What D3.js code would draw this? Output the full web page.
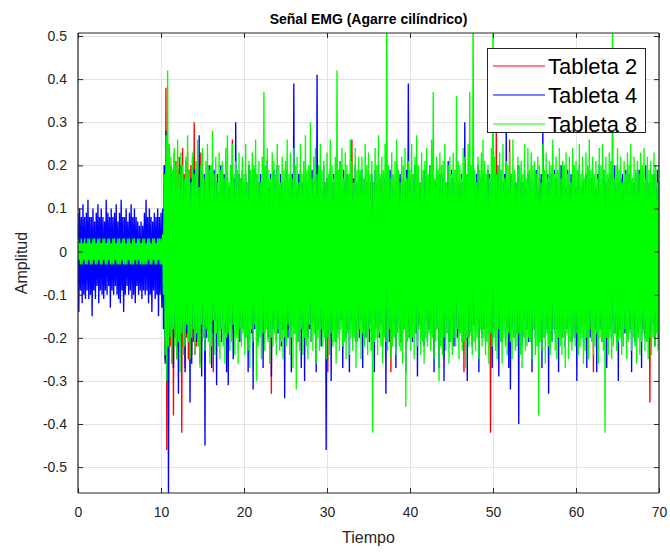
<!DOCTYPE html>
<html><head><meta charset="utf-8">
<script src="https://cdn.jsdelivr.net/npm/d3@7"></script>
<style>body{margin:0;background:#fff}svg{display:block}text{font-family:"Liberation Sans",Arial,sans-serif}</style>
</head><body>
<svg id="c" width="670" height="552"></svg>
<script>
// Sampling: one value every 0.1 time units, starting at 0
const tStart = 0, tStep = 0.1;
const seriesNames = ["Tableta 2", "Tableta 4", "Tableta 8"];
const seriesColors = ["#ff0000", "#0000ff", "#00ff00"];
const xTicks = [0,10,20,30,40,50,60,70];
const yTicks = [-0.5,-0.4,-0.3,-0.2,-0.1,0,0.1,0.2,0.3,0.4,0.5];
const yTickLabels = ["-0.5","-0.4","-0.3","-0.2","-0.1","0","0.1","0.2","0.3","0.4","0.5"];

const tableta2 = [
.02,-.01,.01,-.02,.02,-.02,.01,-.01,.02,-.02,
.01,-.02,.02,-.01,.02,-.02,.01,-.02,.02,-.01,
.02,-.02,.01,-.02,.02,-.01,.02,-.02,.01,-.02,
.02,-.01,.02,-.02,.01,-.02,.02,-.01,.02,-.02,
.01,-.02,.02,-.02,.02,-.01,.01,-.02,.02,-.02,
.02,-.02,.01,-.01,.02,-.02,.02,-.02,.01,-.02,
.02,-.01,.02,-.02,.01,-.02,.02,-.02,.02,-.01,
.01,-.02,.02,-.01,.02,-.02,.01,-.02,.02,-.02,
.02,-.02,.01,-.02,.02,-.01,.02,-.02,.01,-.02,
.02,-.01,.02,-.02,.01,-.02,.02,-.01,.02,-.02,
.02,-.03,.05,-.12,.2,-.25,.38,-.46,.22,-.3,
.24,-.22,.2,-.26,.18,-.38,.23,-.2,.21,-.25,
.19,-.23,.22,-.21,.2,-.42,.24,-.22,.18,-.27,
.21,-.2,.23,-.25,.19,-.22,.2,-.24,.22,-.21,
.3,-.24,.19,-.22,.21,-.2,.18,-.26,.23,-.21,
.15,-.17,.13,-.16,.17,-.18,.14,-.15,.16,-.17,
.17,-.15,.15,-.28,.13,-.16,.16,-.15,.15,-.18,
.14,-.17,.16,-.15,.15,-.16,.13,-.18,.16,-.15,
.15,-.16,.14,-.17,.17,-.15,.26,-.19,.13,-.16,
.16,-.18,.15,-.15,.14,-.16,.17,-.15,.15,-.17,
.13,-.16,.16,-.18,.15,-.15,.14,-.17,.16,-.15,
.15,-.17,.13,-.15,.16,-.16,.15,-.18,.14,-.15,
.16,-.15,.15,-.17,.13,-.18,.16,-.15,.15,-.16,
.14,-.15,.16,-.33,.15,-.16,.13,-.17,.16,-.15,
.15,-.18,.14,-.15,.16,-.15,.15,-.17,.13,-.16,
.17,-.16,.15,-.18,.14,-.15,.16,-.17,.15,-.15,
.14,-.17,.16,-.15,.15,-.18,.13,-.16,.17,-.15,
.15,-.16,.13,-.17,.16,-.15,.15,-.19,.14,-.16,
.16,-.15,.15,-.17,.14,-.16,.17,-.15,.15,-.18,
.13,-.17,.16,-.15,.15,-.18,.14,-.16,.16,-.15,
.15,-.28,.14,-.17,.17,-.15,.15,-.16,.13,-.17,
.16,-.18,.15,-.15,.14,-.16,.17,-.15,.15,-.16,
.14,-.16,.16,-.18,.15,-.15,.13,-.17,.16,-.15,
.26,-.17,.13,-.15,.16,-.16,.15,-.18,.14,-.16,
.17,-.15,.15,-.17,.13,-.18,.16,-.15,.15,-.17,
.14,-.15,.16,-.16,.15,-.16,.13,-.17,.16,-.18,
.15,-.16,.14,-.15,.17,-.15,.15,-.17,.13,-.16,
.16,-.17,.15,-.18,.14,-.15,.16,-.28,.15,-.16,
.13,-.15,.16,-.16,.15,-.18,.14,-.15,.17,-.17,
.15,-.18,.13,-.15,.16,-.16,.15,-.17,.14,-.15,
.17,-.15,.15,-.16,.13,-.17,.16,-.15,.15,-.18,
.14,-.16,.16,-.15,.15,-.18,.13,-.15,.16,-.16,
.15,-.15,.14,-.17,.17,-.15,.15,-.16,.13,-.17,
.16,-.18,.15,-.15,.14,-.16,.17,-.15,.15,-.15,
.13,-.16,.16,-.18,.15,-.15,.14,-.17,.16,-.15,
.15,-.17,.13,-.15,.16,-.16,.15,-.18,.14,-.15,
.16,-.15,.15,-.17,.13,-.28,.16,-.15,.15,-.16,
.14,-.15,.16,-.16,.15,-.16,.13,-.17,.16,-.18,
.15,-.16,.14,-.15,.17,-.15,.15,-.17,.13,-.16,
.16,-.17,.15,-.18,.14,-.15,.16,-.42,.15,-.16,
.13,-.15,.16,-.16,.3,-.18,.14,-.15,.17,-.17,
.15,-.18,.13,-.15,.16,-.16,.15,-.17,.14,-.15,
.26,-.15,.15,-.16,.13,-.17,.16,-.15,.15,-.18,
.14,-.16,.16,-.15,.15,-.18,.13,-.15,.16,-.16,
.15,-.15,.14,-.17,.17,-.15,.15,-.16,.13,-.17,
.16,-.18,.15,-.15,.14,-.16,.17,-.15,.15,-.15,
.13,-.16,.16,-.18,.15,-.15,.14,-.17,.16,-.15,
.15,-.17,.13,-.15,.16,-.16,.15,-.18,.14,-.15,
.16,-.15,.15,-.17,.13,-.18,.16,-.15,.15,-.16,
.14,-.15,.16,-.16,.15,-.16,.13,-.17,.16,-.18,
.15,-.16,.14,-.15,.17,-.15,.15,-.17,.13,-.16,
.16,-.17,.15,-.18,.14,-.15,.16,-.15,.15,-.16,
.13,-.28,.16,-.16,.15,-.18,.14,-.15,.17,-.17,
.15,-.18,.13,-.15,.16,-.16,.15,-.17,.14,-.15,
.17,-.15,.15,-.16,.13,-.17,.16,-.15,.15,-.18,
.14,-.16,.16,-.15,.15,-.18,.13,-.15,.16,-.16,
.15,-.15,.14,-.17,.17,-.15,.15,-.16,.13,-.17,
.16,-.18,.15,-.15,.14,-.16,.17,-.15,.15,-.15,
.13,-.16,.16,-.18,.15,-.15,.14,-.17,.16,-.35,
.15,-.17,.13,-.15,.16,-.16,.15,-.18,.14,-.15,
.15];

const tableta4 = [
.09,-.14,.1,-.09,.08,-.12,.11,-.1,.08,-.11,
.09,-.09,.12,-.11,.08,-.1,.08,-.15,.1,-.09,
.07,-.11,.09,-.08,.11,-.12,.08,-.09,.1,-.1,
.08,-.11,.07,-.09,.12,-.1,.09,-.08,.08,-.13,
.1,-.09,.08,-.1,.09,-.08,.11,-.1,.07,-.11,
.09,-.12,.12,-.09,.08,-.14,.08,-.1,.1,-.08,
.07,-.1,.09,-.09,.11,-.11,.08,-.1,.1,-.12,
.08,-.08,.07,-.1,.06,-.09,.07,-.11,.06,-.09,
.09,-.1,.12,-.09,.08,-.12,.1,-.1,.08,-.14,
.07,-.09,.09,-.11,.08,-.1,.1,-.15,.08,-.1,
.09,-.13,.1,-.18,.2,-.26,.28,-.3,.25,-.56,
.16,-.2,.18,-.17,.15,-.27,.19,-.18,.16,-.22,
.18,-.33,.15,-.17,.2,-.19,.14,-.18,.17,-.28,
.16,-.19,.19,-.15,.14,-.35,.17,-.26,.15,-.17,
.19,-.18,.14,-.21,.17,-.16,.27,-.19,.16,-.29,
.15,-.17,.18,-.45,.16,-.2,.13,-.18,.2,-.16,
.17,-.27,.14,-.19,.19,-.16,.16,-.31,.18,-.19,
.13,-.18,.2,-.21,.15,-.16,.18,-.19,.16,-.28,
.18,-.31,.15,-.17,.2,-.18,.14,-.25,.17,-.16,
.3,-.19,.16,-.18,.18,-.21,.13,-.16,.19,-.18,
.15,-.2,.18,-.17,.16,-.28,.2,-.15,.14,-.19,
.17,-.32,.19,-.18,.15,-.16,.18,-.21,.16,-.18,
.18,-.17,.14,-.27,.17,-.19,.16,-.16,.21,-.2,
.15,-.18,.18,-.29,.13,-.18,.19,-.16,.16,-.21,
.2,-.19,.15,-.17,.18,-.22,.16,-.18,.14,-.34,
.18,-.16,.19,-.2,.15,-.18,.17,-.28,.18,-.17,
.39,-.19,.16,-.18,.14,-.21,.18,-.16,.19,-.27,
.16,-.18,.13,-.3,.18,-.17,.16,-.2,.15,-.18,
.18,-.21,.19,-.16,.15,-.19,.17,-.28,.41,-.18,
.16,-.17,.18,-.22,.14,-.18,.2,-.19,.16,-.46,
.17,-.2,.15,-.16,.19,-.3,.16,-.18,.18,-.17,
.14,-.21,.18,-.18,.16,-.19,.21,-.16,.15,-.27,
.19,-.17,.16,-.2,.18,-.18,.14,-.28,.18,-.16,
.15,-.19,.17,-.18,.2,-.21,.16,-.17,.13,-.2,
.18,-.16,.19,-.27,.15,-.18,.17,-.2,.16,-.18,
.18,-.21,.14,-.17,.18,-.19,.16,-.28,.19,-.16,
.16,-.18,.2,-.2,.15,-.17,.18,-.22,.14,-.19,
.17,-.33,.18,-.16,.16,-.21,.19,-.18,.15,-.2,
.18,-.17,.14,-.27,.2,-.18,.16,-.16,.18,-.21,
.15,-.19,.17,-.18,.16,-.28,.19,-.17,.39,-.2,
.16,-.18,.18,-.21,.14,-.16,.2,-.19,.17,-.29,
.18,-.17,.15,-.2,.18,-.18,.16,-.22,.19,-.16,
.14,-.21,.17,-.18,.2,-.19,.15,-.17,.18,-.28,
.16,-.18,.19,-.16,.14,-.27,.18,-.2,.17,-.18,
.18,-.3,.15,-.19,.16,-.17,.21,-.21,.14,-.18,
.19,-.18,.17,-.22,.15,-.16,.18,-.2,.16,-.19,
.14,-.17,.18,-.21,.16,-.18,.3,-.16,.17,-.3,
.18,-.2,.15,-.18,.19,-.22,.16,-.17,.14,-.19,
.18,-.16,.2,-.28,.17,-.18,.15,-.2,.18,-.18,
.16,-.21,.14,-.17,.19,-.19,.18,-.16,.15,-.27,
.17,-.18,.18,-.2,.16,-.18,.2,-.29,.14,-.17,
.19,-.21,.16,-.16,.18,-.19,.3,-.18,.15,-.27,
.17,-.32,.18,-.18,.14,-.2,.18,-.17,.16,-.19,
.2,-.4,.15,-.18,.17,-.22,.16,-.16,.19,-.2,
.14,-.18,.18,-.21,.18,-.17,.16,-.28,.15,-.18,
.18,-.2,.19,-.16,.15,-.19,.17,-.18,.18,-.27,
.3,-.17,.16,-.2,.14,-.18,.18,-.33,.16,-.16,
.18,-.21,.15,-.18,.19,-.19,.17,-.17,.14,-.28,
.17,-.18,.2,-.2,.16,-.16,.18,-.22,.15,-.18,
.19,-.19,.14,-.17,.18,-.21,.16,-.18,.18,-.2,
.15,-.3,.17,-.18,.2,-.19,.14,-.16,.18,-.21,
.16,-.17,.18,-.27,.15,-.18,.19,-.2,.17,-.16,
.18,-.19,.16,-.18,.14,-.28,.18,-.17,.2,-.18,
.15,-.21,.17,-.16,.19,-.19,.16,-.27,.18,-.18,
.14,-.18,.18,-.2,.16,-.17,.2,-.19,.15,-.21,
.18,-.3,.16,-.18,.17,-.22,.18,-.16,.14,-.19,
.19,-.17,.15,-.2,.18,-.18,.16,-.28,.17,-.16,
.16,-.21,.18,-.18,.14,-.19,.19,-.17,.16,-.27,
.18,-.18,.15,-.2,.2,-.16,.17,-.21,.14,-.18,
.18,-.19,.16,-.17,.18,-.22,.15,-.18,.19,-.2,
.16];

const tableta8 = [
.03,-.02,.02,-.03,.03,-.03,.02,-.02,.03,-.03,
.02,-.03,.03,-.02,.03,-.03,.02,-.03,.03,-.02,
.03,-.03,.02,-.03,.03,-.02,.03,-.03,.02,-.03,
.03,-.02,.03,-.03,.02,-.03,.03,-.02,.03,-.03,
.02,-.03,.03,-.03,.03,-.02,.02,-.03,.03,-.03,
.03,-.03,.02,-.02,.03,-.03,.03,-.03,.02,-.03,
.03,-.02,.03,-.03,.02,-.03,.03,-.03,.03,-.02,
.02,-.03,.03,-.02,.03,-.03,.02,-.03,.03,-.03,
.03,-.03,.02,-.03,.03,-.02,.03,-.03,.02,-.03,
.03,-.02,.03,-.03,.02,-.03,.03,-.02,.03,-.03,
.03,-.03,.04,-.1,.18,-.24,.27,-.3,.42,-.22,
.25,-.2,.22,-.26,.19,-.18,.24,-.22,.2,-.25,
.26,-.21,.18,-.28,.23,-.19,.2,-.24,.17,-.22,
.22,-.17,.27,-.21,.19,-.25,.16,-.2,.23,-.18,
.18,-.24,.21,-.19,.26,-.22,.15,-.27,.2,-.17,
.24,-.2,.17,-.23,.21,-.18,.25,-.21,.19,-.26,
.2,-.22,.28,-.16,.18,-.24,.22,-.19,.16,-.22,
.23,-.25,.19,-.18,.21,-.22,.17,-.26,.24,-.2,
.27,-.19,.16,-.23,.2,-.21,.25,-.17,.18,-.24,
.21,-.2,.19,-.26,.23,-.18,.17,-.22,.22,-.19,
.18,-.24,.25,-.2,.16,-.23,.21,-.27,.19,-.18,
.23,-.21,.2,-.17,.26,-.3,.18,-.22,.21,-.2,
.16,-.25,.22,-.19,.37,-.23,.2,-.18,.24,-.21,
.19,-.26,.17,-.2,.23,-.22,.21,-.19,.18,-.24,
.25,-.18,.2,-.23,.16,-.21,.22,-.25,.19,-.2,
.21,-.22,.26,-.17,.18,-.24,.23,-.2,.17,-.27,
.24,-.19,.2,-.32,.22,-.21,.16,-.23,.25,-.18,
.18,-.24,.21,-.2,.27,-.22,.19,-.25,.2,-.17,
.3,-.21,.17,-.23,.22,-.19,.24,-.26,.18,-.2,
.2,-.23,.25,-.18,.19,-.22,.21,-.2,.16,-.25,
.23,-.2,.18,-.24,.26,-.19,.2,-.22,.17,-.21,
.22,-.26,.42,-.2,.19,-.23,.21,-.18,.24,-.22,
.17,-.21,.23,-.25,.2,-.19,.18,-.24,.26,-.2,
.21,-.23,.16,-.2,.24,-.27,.19,-.21,.22,-.18,
.19,-.25,.22,-.19,.17,-.22,.25,-.2,.2,-.24,
.23,-.18,.18,-.23,.21,-.42,.16,-.21,.24,-.2,
.2,-.24,.27,-.19,.18,-.22,.22,-.26,.19,-.2,
.25,-.21,.6,-.23,.2,-.18,.17,-.25,.23,-.22,
.18,-.2,.21,-.24,.26,-.19,.19,-.22,.16,-.23,
.22,-.26,.2,-.18,.24,-.36,.17,-.21,.21,-.2,
.19,-.23,.25,-.2,.18,-.25,.22,-.19,.27,-.22,
.2,-.18,.16,-.24,.23,-.21,.19,-.26,.21,-.2,
.24,-.22,.18,-.19,.2,-.23,.26,-.2,.37,-.25,
.17,-.21,.22,-.18,.19,-.3,.23,-.22,.2,-.24,
.21,-.2,.25,-.23,.16,-.19,.2,-.26,.22,-.21,
.18,-.24,.23,-.2,.19,-.22,.36,-.18,.21,-.25,
.2,-.19,.17,-.23,.24,-.21,.22,-.27,.18,-.2,
.25,-.22,.37,-.19,.2,-.24,.6,-.21,.19,-.23,
.16,-.2,.22,-.25,.19,-.18,.23,-.22,.26,-.2,
.21,-.24,.18,-.21,.2,-.26,.17,-.19,.24,-.22,
.6,-.2,.22,-.23,.18,-.25,.2,-.18,.23,-.21,
.19,-.26,.25,-.2,.17,-.22,.21,-.24,.2,-.19,
.23,-.21,.18,-.25,.26,-.2,.19,-.23,.16,-.22,
.22,-.19,.2,-.24,.21,-.27,.18,-.2,.25,-.23,
.17,-.22,.24,-.2,.19,-.21,.23,-.25,.2,-.18,
.21,-.24,.18,-.22,.22,-.38,.2,-.21,.16,-.23,
.25,-.2,.19,-.26,.23,-.19,.17,-.22,.21,-.24,
.2,-.21,.26,-.18,.18,-.23,.22,-.25,.19,-.2,
.24,-.22,.17,-.24,.21,-.2,.2,-.27,.23,-.19,
.18,-.25,.22,-.21,.16,-.23,.24,-.2,.2,-.22,
.21,-.19,.19,-.24,.25,-.22,.18,-.2,.22,-.26,
.17,-.23,.23,-.2,.2,-.25,.26,-.18,.19,-.21,
.22,-.24,.18,-.22,.21,-.19,.17,-.26,.24,-.2,
.2,-.21,.25,-.23,.19,-.42,.22,-.2,.18,-.24,
.23,-.2,.21,-.25,.6,-.22,.17,-.19,.2,-.23,
.24,-.21,.19,-.2,.22,-.24,.16,-.22,.21,-.18,
.18,-.25,.23,-.21,.2,-.19,.25,-.23,.17,-.2,
.22,-.22,.19,-.26,.21,-.2,.18,-.24,.23,-.21,
.2,-.19,.24,-.23,.17,-.21,.22,-.25,.19,-.2,
.21,-.24,.18,-.2,.23,-.22,.2,-.19,.16,-.23,
.2];

const allSeries = [tableta2, tableta4, tableta8];

const svg = d3.select("#c");
const m = {left:78, right:659, top:33, bottom:493};
const x = d3.scaleLinear().domain([0,70]).range([m.left, m.right]);
const y = d3.scaleLinear().domain([-0.56, 0.507]).range([m.bottom, m.top]);
const axisCol = "#262626";

// grid
svg.append("g").selectAll("line").data(xTicks).join("line")
  .attr("x1", d=>x(d)+0.5).attr("x2", d=>x(d)+0.5).attr("y1", m.top).attr("y2", m.bottom)
  .attr("stroke", "#e3e3e3").attr("stroke-width", 1);
svg.append("g").selectAll("line").data(yTicks).join("line")
  .attr("y1", d=>Math.round(y(d))+0.5).attr("y2", d=>Math.round(y(d))+0.5).attr("x1", m.left).attr("x2", m.right)
  .attr("stroke", "#e3e3e3").attr("stroke-width", 1);

svg.append("clipPath").attr("id","clip").append("rect")
  .attr("x", m.left).attr("y", m.top).attr("width", m.right-m.left).attr("height", m.bottom-m.top);

const line = d3.line().x((d,i)=>x(tStart + i*tStep)).y(d=>y(d));
const gData = svg.append("g").attr("clip-path","url(#clip)");
allSeries.forEach((s, k) => {
  gData.append("path").datum(s).attr("d", line)
    .attr("fill","none").attr("stroke", seriesColors[k]).attr("stroke-width", 1.35)
    .attr("stroke-linejoin","miter");
});

// axes
const fmtY = d => yTickLabels[yTicks.indexOf(d)];
const axB = svg.append("g").attr("transform", `translate(0,${m.bottom})`)
  .call(d3.axisBottom(x).tickValues(xTicks).tickSize(-5).tickPadding(14).tickFormat(d3.format("d")));
const axT = svg.append("g").attr("transform", `translate(0,${m.top})`)
  .call(d3.axisTop(x).tickValues(xTicks).tickSize(-5).tickFormat(""));
const axL = svg.append("g").attr("transform", `translate(${m.left},0)`)
  .call(d3.axisLeft(y).tickValues(yTicks).tickSize(-5).tickPadding(11).tickFormat(fmtY));
const axR = svg.append("g").attr("transform", `translate(${m.right},0)`)
  .call(d3.axisRight(y).tickValues(yTicks).tickSize(-5).tickFormat(""));
[axB, axT, axL, axR].forEach(a => {
  a.select(".domain").attr("stroke", axisCol).attr("stroke-width", 1.2);
  a.selectAll(".tick line").attr("stroke", axisCol);
  a.selectAll("text").attr("fill", axisCol).style("font-size","14px").style("font-family",'"Liberation Sans",Arial,sans-serif');
});
axB.select(".domain").attr("d", `M${m.left},0H${m.right}`);
axT.select(".domain").attr("d", `M${m.left},0H${m.right}`);
axL.select(".domain").attr("d", `M0,${m.top}V${m.bottom}`);
axR.select(".domain").attr("d", `M0,${m.top}V${m.bottom}`);

// title and labels
svg.append("text").attr("x", (m.left+m.right)/2).attr("y", 24).attr("text-anchor","middle")
  .style("font-size","14px").style("font-weight","bold").attr("fill","#000")
  .text("Señal EMG (Agarre cilíndrico)");
svg.append("text").attr("x", (m.left+m.right)/2).attr("y", 543).attr("text-anchor","middle")
  .style("font-size","16px").attr("fill", axisCol).text("Tiempo");
svg.append("text").attr("transform", `translate(27,${(m.top+m.bottom)/2}) rotate(-90)`).attr("text-anchor","middle")
  .style("font-size","16px").attr("fill", axisCol).text("Amplitud");

// legend
const lg = svg.append("g");
lg.append("rect").attr("x", 487.5).attr("y", 48.5).attr("width", 158).attr("height", 84)
  .attr("fill","#fff").attr("stroke","#262626").attr("stroke-width",1);
seriesNames.forEach((n, k) => {
  const yy = 66 + k*29;
  lg.append("line").attr("x1", 493).attr("x2", 545).attr("y1", yy).attr("y2", yy)
    .attr("stroke", seriesColors[k]).attr("stroke-width", 1);
  lg.append("text").attr("x", 548).attr("y", yy+7.5).style("font-size","22px").attr("fill","#000").text(n);
});
</script>
</body></html>
